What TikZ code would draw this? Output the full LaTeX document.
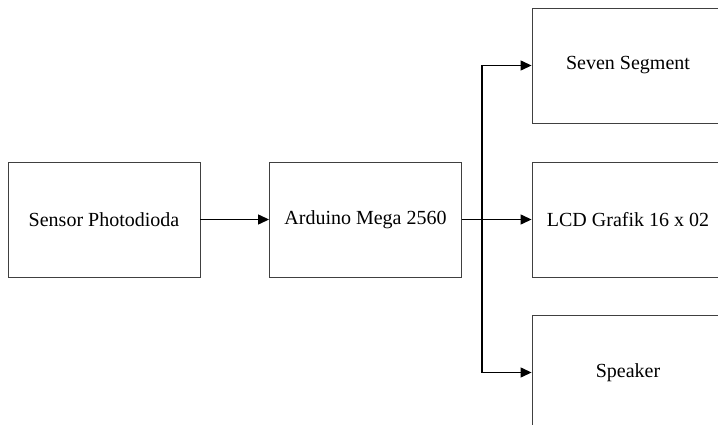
\documentclass[tikz,border=0pt]{standalone}
\usepackage{fontspec}
\setmainfont{Liberation Serif}
\usetikzlibrary{arrows.meta}

\begin{document}
\begin{tikzpicture}[x=1pt,y=-1pt,%
      block/.style={draw=black!75,line width=0.9pt,minimum width=192pt,%
        minimum height=115pt,inner sep=0pt,%
        font=\fontsize{20}{24}\selectfont},%
      link/.style={line width=1.3pt,-{Triangle[length=11pt,width=10pt]}}%
      ]
      %% page size
      \useasboundingbox (0,0) rectangle (718,425);%
      \clip (0,0) rectangle (718,425);%
      %% create nodes
      \node[block] (sensor) at (104,219.5) {Sensor Photodioda};%
      \node[block] (arduino) at (365.5,219.5) {Arduino Mega 2560};%
      \node[block] (seven) at (628,65.5) {Seven Segment};%
      \node[block] (lcd) at (628,219.5) {LCD Grafik 16 x 02};%
      \node[block] (speaker) at (628,372.5) {Speaker};%
      \coordinate (bus) at (482,219.5);%
      %% draw lines
      \draw[link] (sensor) -- (arduino);%
      \draw[link] (arduino) -- (lcd);%
      \foreach \y in {seven,speaker} {%
        \draw[link] (bus) |- (\y.west);%
      }%
    \end{tikzpicture}
\end{document}
